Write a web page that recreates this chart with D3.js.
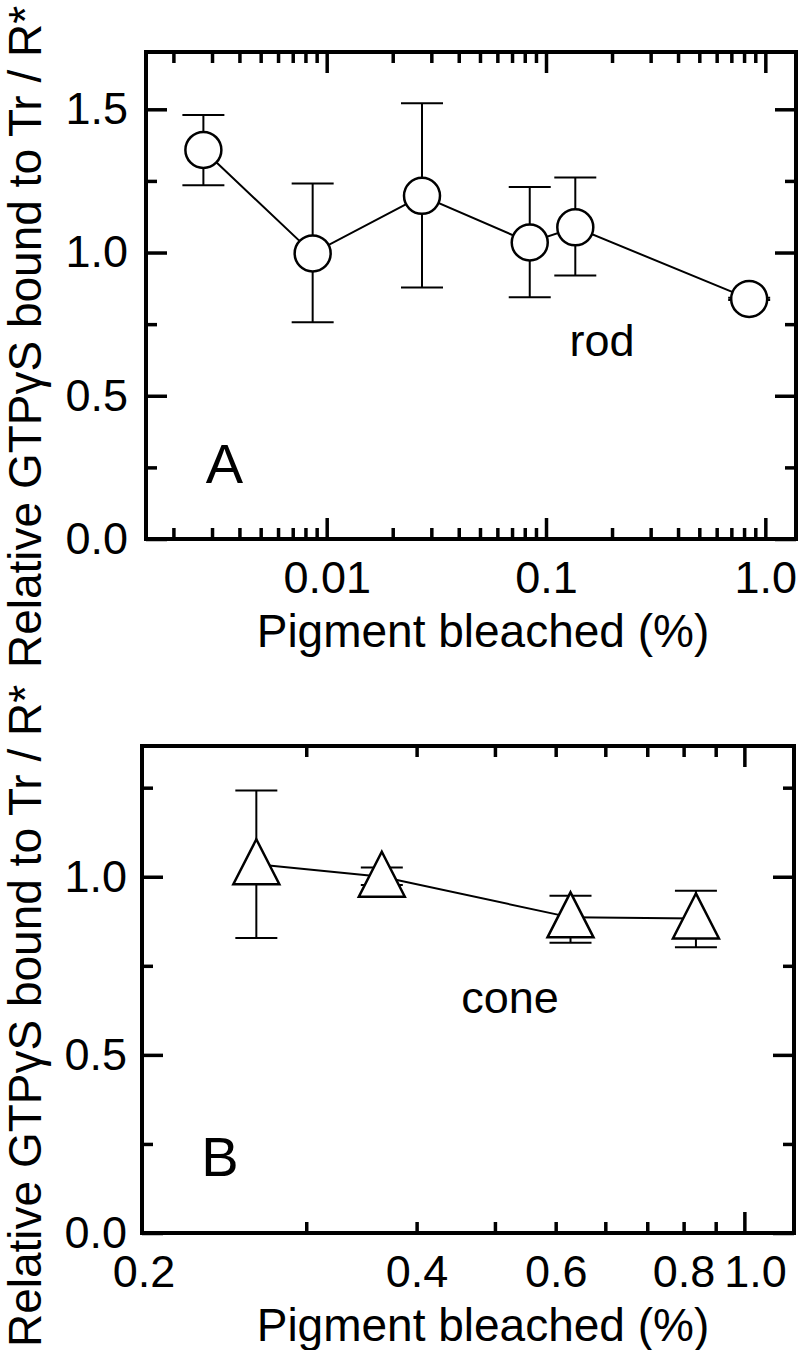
<!DOCTYPE html>
<html>
<head>
<meta charset="utf-8">
<script src="https://cdn.jsdelivr.net/npm/d3@7"></script>
<style>
  body { margin: 0; background: #fff; }
  svg { display: block; font-family: "Liberation Sans", Arial, Helvetica, sans-serif; }
</style>
</head>
<body>
<svg id="chart" width="800" height="1350"></svg>
<script>
// Panel A - rod
const rodBleach = [0.00274, 0.00863, 0.0272, 0.0843, 0.136, 0.844];
const rodValue = [1.358, 0.997, 1.198, 1.035, 1.088, 0.838];
const rodUpper = [1.480, 1.241, 1.521, 1.229, 1.262, 0.842];
const rodLower = [1.235, 0.757, 0.878, 0.844, 0.920, 0.834];

// Panel B - cone
const coneBleach = [0.1665, 0.264, 0.528, 0.837];
const coneValue = [1.035, 1.0, 0.886, 0.883];
const coneUpper = [1.242, 1.026, 0.947, 0.961];
const coneLower = [0.828, 0.977, 0.815, 0.802];

// tick labels
const rodXTicks = [0.01, 0.1, 1];
const rodXTickLabels = ["0.01", "0.1", "1.0"];
const rodYTicks = [0, 0.5, 1.0, 1.5];
const rodYTickLabels = ["0.0", "0.5", "1.0", "1.5"];
const rodYMinor = [0.25, 0.75, 1.25];

const coneXTicks = [1];
const coneXTickLabels = ["0.2", "0.4", "0.6", "0.8", "1.0"];
const coneXLabelAt = [0.11, 0.3, 0.5, 0.8, 1.04]; // labels sit where the original put them
const coneYTicks = [0, 0.5, 1.0];
const coneYTickLabels = ["0.0", "0.5", "1.0"];
const coneYMinor = [0.25, 0.75, 1.25];

const yTitle = "Relative GTPγS bound to Tr / R*";
const xTitle = "Pigment bleached (%)";

const svg = d3.select("#chart");
svg.append("rect").attr("width", 800).attr("height", 1350).attr("fill", "#fff");

const zip = (xs, vs, hi, lo) =>
    xs.map((b, i) => ({ bleach: b, value: vs[i], upper: hi[i], lower: lo[i] }));

const drawPanel = (cfg) => {
    const { left, right, top, bottom } = cfg.frame;
    const g = svg.append("g");

    const x = d3.scaleLog().domain(cfg.xDomain).range([left, right]);
    const y = d3.scaleLinear().domain(cfg.yDomain).range([bottom, top]);

    const xMinor = x.ticks().filter((t) => !cfg.xMajor.some((m) => Math.abs(m - t) < t * 1e-6));

    const styleTicks = (sel) => {
        sel.select(".domain").remove();
        sel.selectAll(".tick line").attr("stroke", "#000").attr("stroke-width", 3.5);
        sel.selectAll("text")
            .attr("fill", "#000")
            .attr("font-size", 45)
            .attr("font-family", "Liberation Sans, Arial, sans-serif");
    };

    const major = 21, minor = 11;

    // bottom
    g.append("g").attr("transform", `translate(0,${bottom})`)
        .call(d3.axisBottom(x).tickValues(xMinor).tickSize(-minor).tickFormat(""))
        .call(styleTicks);
    g.append("g").attr("transform", `translate(0,${bottom})`)
        .call(d3.axisBottom(x).tickValues(cfg.xMajor).tickSize(-major).tickFormat(""))
        .call(styleTicks);
    // bottom labels
    g.append("g").attr("transform", `translate(0,${bottom})`)
        .call(d3.axisBottom(x).tickValues(cfg.xLabelAt).tickSize(0).tickPadding(22)
            .tickFormat((d, i) => cfg.xLabels[i]))
        .call(styleTicks);

    // top
    g.append("g").attr("transform", `translate(0,${top})`)
        .call(d3.axisTop(x).tickValues(xMinor).tickSize(-minor).tickFormat(""))
        .call(styleTicks);
    g.append("g").attr("transform", `translate(0,${top})`)
        .call(d3.axisTop(x).tickValues(cfg.xMajor).tickSize(-major).tickFormat(""))
        .call(styleTicks);

    // left
    g.append("g").attr("transform", `translate(${left},0)`)
        .call(d3.axisLeft(y).tickValues(cfg.yMinor).tickSize(-minor).tickFormat(""))
        .call(styleTicks);
    g.append("g").attr("transform", `translate(${left},0)`)
        .call(d3.axisLeft(y).tickValues(cfg.yTicks).tickSize(-major).tickPadding(cfg.yPad)
            .tickFormat((d, i) => cfg.yLabels[i]))
        .call(styleTicks);

    // right
    g.append("g").attr("transform", `translate(${right},0)`)
        .call(d3.axisRight(y).tickValues(cfg.yMinor).tickSize(-minor).tickFormat(""))
        .call(styleTicks);
    g.append("g").attr("transform", `translate(${right},0)`)
        .call(d3.axisRight(y).tickValues(cfg.yTicks).tickSize(-major).tickFormat(""))
        .call(styleTicks);

    // frame
    g.append("rect")
        .attr("x", left).attr("y", top)
        .attr("width", right - left).attr("height", bottom - top)
        .attr("fill", "none").attr("stroke", "#000").attr("stroke-width", 4);

    const data = cfg.data;

    // connecting line
    g.append("path")
        .datum(data)
        .attr("fill", "none")
        .attr("stroke", "#000")
        .attr("stroke-width", 2)
        .attr("d", d3.line().x((d) => x(d.bleach)).y((d) => y(d.value)));

    // error bars
    const err = g.append("g").attr("stroke", "#000").attr("stroke-width", 2);
    err.selectAll(".stem").data(data).enter().append("line")
        .attr("x1", (d) => x(d.bleach)).attr("x2", (d) => x(d.bleach))
        .attr("y1", (d) => y(d.upper)).attr("y2", (d) => y(d.lower));
    ["upper", "lower"].forEach((k) => {
        err.selectAll(".cap-" + k).data(data).enter().append("line")
            .attr("x1", (d) => x(d.bleach) - 21).attr("x2", (d) => x(d.bleach) + 21)
            .attr("y1", (d) => y(d[k])).attr("y2", (d) => y(d[k]));
    });

    // markers
    const markers = g.selectAll(".marker").data(data).enter();
    if (cfg.marker === "circle") {
        markers.append("circle")
            .attr("cx", (d) => x(d.bleach)).attr("cy", (d) => y(d.value))
            .attr("r", 18)
            .attr("fill", "#fff").attr("stroke", "#000").attr("stroke-width", 2.5);
    } else {
        markers.append("path")
            .attr("transform", (d) => `translate(${x(d.bleach)},${y(d.value)})`)
            .attr("d", "M0,-25L23,20L-23,20Z")
            .attr("fill", "#fff").attr("stroke", "#000").attr("stroke-width", 2.5)
            .attr("stroke-linejoin", "miter");
    }

    // annotations
    g.append("text")
        .attr("x", x(cfg.note.at[0])).attr("y", y(cfg.note.at[1]))
        .attr("text-anchor", "middle").attr("font-size", 45)
        .text(cfg.note.text);
    g.append("text")
        .attr("x", x(cfg.letter.at[0])).attr("y", y(cfg.letter.at[1]))
        .attr("font-size", 56)
        .text(cfg.letter.text);

    // axis titles
    g.append("text")
        .attr("x", 483).attr("y", cfg.xTitleY)
        .attr("text-anchor", "middle").attr("font-size", 46)
        .text(xTitle);
    g.append("text")
        .attr("transform", `translate(41,${cfg.yTitleY}) rotate(-90)`)
        .attr("text-anchor", "middle").attr("font-size", 46)
        .text(yTitle);
};

drawPanel({
    frame: { left: 146, right: 796, top: 52, bottom: 539 },
    xDomain: [0.0015, 1.38],
    yDomain: [0, 1.7],
    xMajor: rodXTicks,
    xLabelAt: rodXTicks,
    xLabels: rodXTickLabels,
    yTicks: rodYTicks,
    yLabels: rodYTickLabels,
    yMinor: rodYMinor,
    yPad: 18,
    data: zip(rodBleach, rodValue, rodUpper, rodLower),
    marker: "circle",
    note: { text: "rod", at: [0.18, 0.64] },
    letter: { text: "A", at: [0.00281, 0.195] },
    xTitleY: 647,
    yTitleY: 337,
});

drawPanel({
    frame: { left: 142, right: 794, top: 746, bottom: 1233 },
    xDomain: [0.1094, 1.2],
    yDomain: [0, 1.367],
    xMajor: coneXTicks,
    xLabelAt: coneXLabelAt,
    xLabels: coneXTickLabels,
    yTicks: coneYTicks,
    yLabels: coneYTickLabels,
    yMinor: coneYMinor,
    yPad: 15,
    data: zip(coneBleach, coneValue, coneUpper, coneLower),
    marker: "triangle",
    note: { text: "cone", at: [0.4227, 0.617] },
    letter: { text: "B", at: [0.136, 0.16] },
    xTitleY: 1341,
    yTitleY: 1016,
});
</script>
</body>
</html>
